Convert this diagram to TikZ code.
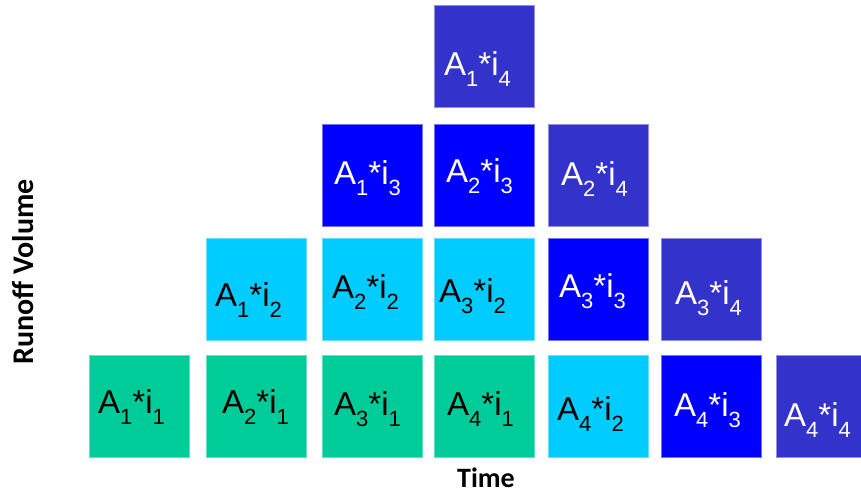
\documentclass[tikz,border=0pt]{standalone}
\usepackage{fontspec}
\setmainfont{Liberation Sans}
\newfontfamily\axisfont{Carlito}
\definecolor{cgreen}{HTML}{00CC99}
\definecolor{ccyan}{HTML}{00CCFF}
\definecolor{cblue}{HTML}{0000FF}
\definecolor{cdark}{HTML}{3333CC}
\newcommand{\subnum}[1]{\raisebox{-11pt}{\fontsize{22}{22}\selectfont #1}}
\newcommand{\ai}[2]{A\subnum{#1}*i\subnum{#2}}
\tikzset{
  cell/.style={minimum width=100pt, minimum height=102pt, inner sep=0pt, line width=0.8pt},
  gcell/.style={cell, fill=cgreen, draw=cgreen!60!white},
  ccell/.style={cell, fill=ccyan, draw=ccyan!60!white},
  bcell/.style={cell, fill=cblue, draw=cblue!55!white},
  dcell/.style={cell, fill=cdark, draw=cdark!55!white},
  lab/.style={anchor=base west, inner sep=0pt, font=\fontsize{33}{33}\selectfont},
  dlab/.style={lab, text=black},
  wlab/.style={lab, text=white},
  axis/.style={inner sep=0pt, font=\axisfont\bfseries\fontsize{28}{28}\selectfont, text=black},
  vaxis/.style={axis, font=\axisfont\bfseries\fontsize{30}{30}\selectfont}
}
\begin{document}
\begin{tikzpicture}[x=1pt,y=-1pt]
\clip (0,0) rectangle (861,494);
\fill[white] (0,0) rectangle (861,494);
% row 1
\node[gcell] (b11) at (139,406) {};
\node[gcell] (b21) at (256.5,406) {};
\node[gcell] (b31) at (372,406) {};
\node[gcell] (b41) at (484.5,406) {};
\node[ccell] (b51) at (598.5,406) {};
\node[bcell] (b61) at (711.5,406) {};
\node[dcell] (b71) at (826.5,406) {};
% row 2
\node[ccell] (b22) at (256.5,289) {};
\node[ccell] (b32) at (372,289) {};
\node[ccell] (b42) at (484.5,289) {};
\node[bcell] (b52) at (598.5,289) {};
\node[dcell] (b62) at (711.5,289) {};
% row 3
\node[bcell] (b33) at (372,175) {};
\node[bcell] (b43) at (484.5,175) {};
\node[dcell] (b53) at (598.5,175) {};
% row 4
\node[dcell] (b44) at (484.5,56.5) {};
% labels
\node[dlab] (l11) at (98,413) {\ai{1}{1}};
\node[dlab] (l21) at (222,413) {\ai{2}{1}};
\node[dlab] (l31) at (334,415) {\ai{3}{1}};
\node[dlab] (l41) at (447,415) {\ai{4}{1}};
\node[dlab] (l51) at (557,420) {\ai{4}{2}};
\node[wlab] (l61) at (674,416) {\ai{4}{3}};
\node[wlab] (l71) at (784,426) {\ai{4}{4}};
\node[dlab] (l22) at (215,306) {\ai{1}{2}};
\node[dlab] (l32) at (332,298) {\ai{2}{2}};
\node[dlab] (l42) at (439,302) {\ai{3}{2}};
\node[wlab] (l52) at (559,297) {\ai{3}{3}};
\node[wlab] (l62) at (675,304) {\ai{3}{4}};
\node[wlab] (l33) at (334,185) {\ai{1}{3}};
\node[wlab] (l43) at (446,183) {\ai{2}{3}};
\node[wlab] (l53) at (561,186) {\ai{2}{4}};
\node[wlab] (l44) at (444,76) {\ai{1}{4}};
% axes
\node[axis, anchor=base] (time) at (486,487) {Time};
\node[vaxis, anchor=base, rotate=90] (runoff) at (33,272) {Runoff Volume};
\end{tikzpicture}
\end{document}
